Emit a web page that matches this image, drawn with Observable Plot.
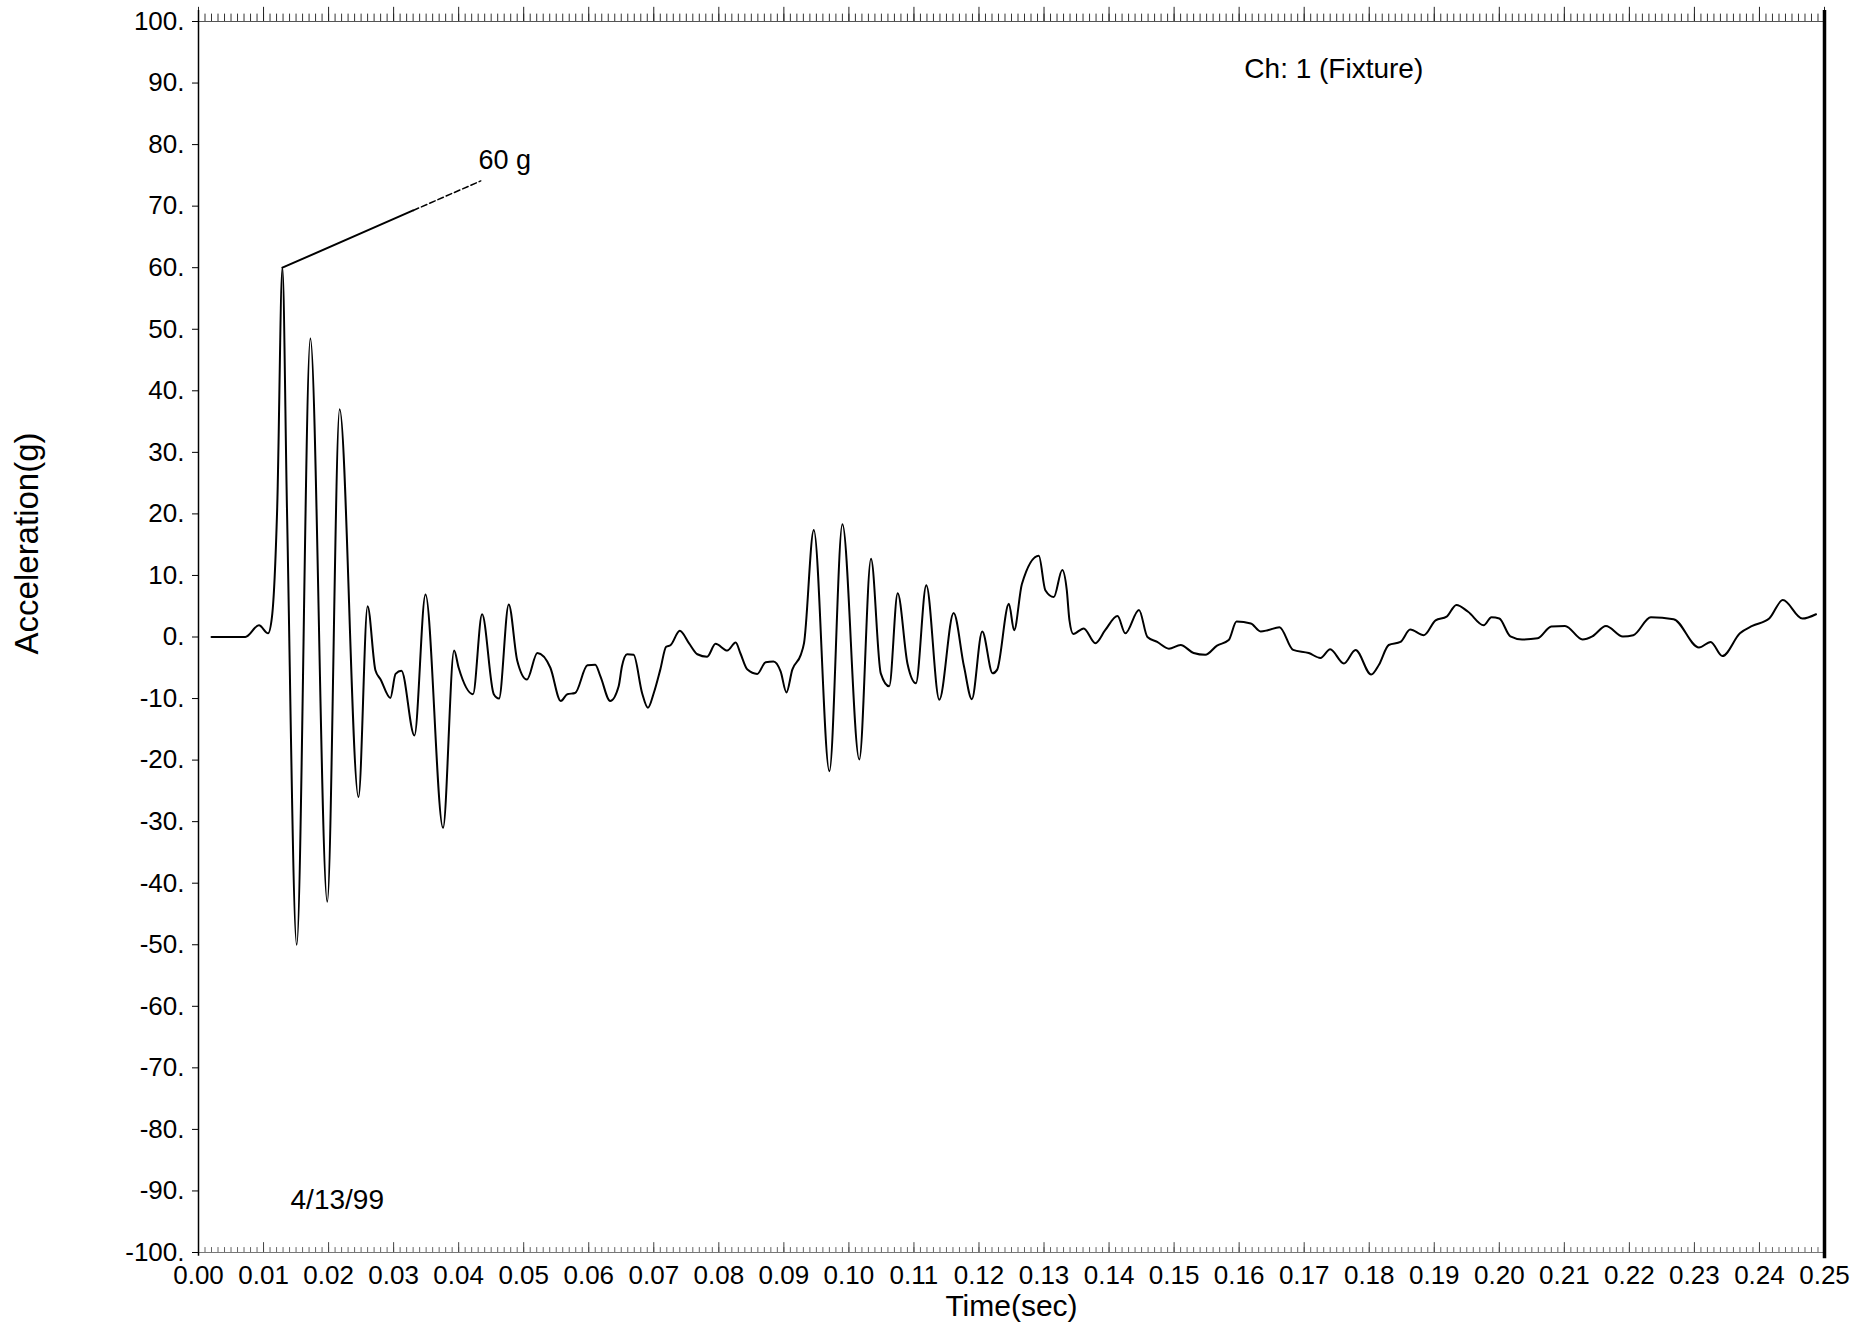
<!DOCTYPE html>
<html>
<head>
<meta charset="utf-8">
<script src="https://cdn.jsdelivr.net/npm/d3@7"></script>
<script src="https://cdn.jsdelivr.net/npm/@observablehq/plot@0.6"></script>
<style>
  html, body { margin: 0; padding: 0; background: #fff; }
  #chart svg { display: block; }
</style>
</head>
<body>
<div id="chart"></div>
<script>
// Time (sec) of digitized samples
const timeSec = [
  0.0020, 0.0072, 0.0093, 0.0107, 0.0113, 0.0121, 0.0129, 0.0136, 0.0151, 0.0172,
  0.0198, 0.0217, 0.0246, 0.0260, 0.0272, 0.0280, 0.0295, 0.0303, 0.0312, 0.0332,
  0.0349, 0.0376, 0.0393, 0.0400, 0.0422, 0.0436, 0.0454, 0.0462, 0.0477, 0.0490,
  0.0505, 0.0521, 0.0541, 0.0557, 0.0567, 0.0579, 0.0598, 0.0610, 0.0618, 0.0633,
  0.0646, 0.0651, 0.0659, 0.0669, 0.0682, 0.0691, 0.0700, 0.0710, 0.0719, 0.0726,
  0.0740, 0.0754, 0.0767, 0.0782, 0.0795, 0.0813, 0.0826, 0.0833, 0.0844, 0.0859,
  0.0872, 0.0884, 0.0895, 0.0904, 0.0913, 0.0926, 0.0931, 0.0946, 0.0970, 0.0990,
  0.1016, 0.1034, 0.1049, 0.1062, 0.1075, 0.1090, 0.1103, 0.1119, 0.1139, 0.1161,
  0.1177, 0.1189, 0.1205, 0.1221, 0.1228, 0.1246, 0.1254, 0.1266, 0.1292, 0.1302,
  0.1315, 0.1328, 0.1335, 0.1339, 0.1345, 0.1361, 0.1379, 0.1394, 0.1413, 0.1425,
  0.1446, 0.1459, 0.1474, 0.1492, 0.1510, 0.1530, 0.1548, 0.1566, 0.1584, 0.1596,
  0.1618, 0.1633, 0.1644, 0.1662, 0.1683, 0.1707, 0.1725, 0.1740, 0.1761, 0.1779,
  0.1803, 0.1815, 0.1830, 0.1848, 0.1863, 0.1884, 0.1902, 0.1919, 0.1934, 0.1952,
  0.1976, 0.1988, 0.2000, 0.2017, 0.2035, 0.2059, 0.2080, 0.2101, 0.2128, 0.2143,
  0.2164, 0.2190, 0.2206, 0.2233, 0.2268, 0.2307, 0.2325, 0.2343, 0.2370, 0.2389,
  0.2415, 0.2436, 0.2466, 0.2487
];
// Acceleration (g) at those times
const accelG = [
  0, 0, 1.9, 0.6, 3.3, 21, 60, 21, -50, 48.5,
  -43, 37, -26, 5, -5.4, -6.9, -9.9, -6.0, -5.5, -16,
  6.9, -31, -2.2, -5, -9.3, 3.7, -9.3, -10, 5.3, -3.8,
  -6.9, -2.6, -5, -10.4, -9.3, -9.1, -4.6, -4.5, -6.4, -10.4,
  -8, -4.8, -2.8, -2.9, -9.1, -11.5, -9.1, -5.3, -1.6, -1.3,
  1.0, -1.0, -2.8, -3.2, -1.1, -2.2, -0.9, -2.6, -5.3, -6.0,
  -4.1, -4.0, -5.6, -9.0, -5.3, -2.9, -1.0, 17.4, -21.8, 18.3,
  -19.9, 12.7, -5.9, -8.0, 7.1, -4.3, -7.5, 8.4, -10.2, 3.9,
  -4.8, -10.1, 0.9, -5.9, -5.3, 5.4, 1.1, 8.6, 13.2, 7.6,
  6.5, 10.9, 7.6, 2.8, 0.5, 1.4, -1.0, 1.1, 3.4, 0.6,
  4.4, 0.0, -0.8, -1.9, -1.3, -2.6, -2.9, -1.4, -0.5, 2.5,
  2.2, 0.9, 1.1, 1.6, -2.1, -2.6, -3.4, -2.0, -4.3, -2.1,
  -6.1, -4.5, -1.3, -0.8, 1.2, 0.3, 2.7, 3.3, 5.2, 4.1,
  1.9, 3.2, 3.0, 0.1, -0.4, -0.2, 1.7, 1.8, -0.4, 0.1,
  1.8, 0.1, 0.3, 3.2, 2.9, -1.7, -0.8, -3.1, 0.6, 1.8,
  3.0, 6.0, 3.0, 3.7
];
// Tick labels
const xTicks = [0, 0.01, 0.02, 0.03, 0.04, 0.05, 0.06, 0.07, 0.08, 0.09, 0.10, 0.11, 0.12,
  0.13, 0.14, 0.15, 0.16, 0.17, 0.18, 0.19, 0.20, 0.21, 0.22, 0.23, 0.24, 0.25];
const yTicks = [-100, -90, -80, -70, -60, -50, -40, -30, -20, -10, 0, 10, 20, 30, 40, 50, 60, 70, 80, 90, 100];
// Peak annotation
const peakLabel = "60 g";
const annoSolidX = [0.0129, 0.0330];
const annoSolidY = [60, 69.3];
const annoDashX = [0.0330, 0.0434];
const annoDashY = [69.3, 74.1];
const channelLabel = "Ch: 1 (Fixture)";
const dateLabel = "4/13/99";
const xTitle = "Time(sec)";
const yTitle = "Acceleration(g)";

const series = timeSec.map((t, i) => ({t, g: accelG[i]}));
const minorTicks = d3.range(0, 251).map(i => i / 1000);
const font = "'Liberation Sans', Arial, Helvetica, sans-serif";

const chart = Plot.plot({
  width: 1867,
  height: 1326,
  marginLeft: 198,
  marginRight: 43,
  marginTop: 21,
  marginBottom: 74,
  x: {domain: [0, 0.25]},
  y: {domain: [-100, 100]},
  style: {fontFamily: font, fontSize: "26px", color: "#000", background: "#fff"},
  marks: [
    // frame edges
    Plot.ruleY([100], {stroke: "#555", strokeWidth: 1}),
    Plot.ruleY([-100], {stroke: "#777", strokeWidth: 1}),
    Plot.ruleX(minorTicks, {y1: 100, y2: 101.2, stroke: "#333", strokeWidth: 1}),
    Plot.ruleX(xTicks, {y1: 100, y2: 102.3, stroke: "#222", strokeWidth: 1}),
    Plot.ruleX(minorTicks, {y1: -100, y2: -99.2, stroke: "#666", strokeWidth: 1}),
    Plot.ruleX(xTicks, {y1: -100, y2: -98.4, stroke: "#444", strokeWidth: 1}),
    Plot.ruleX([0], {y1: -100.6, y2: 101.8, stroke: "#000", strokeWidth: 1.5}),
    Plot.ruleX([0.25], {y1: -101, y2: 101.8, stroke: "#000", strokeWidth: 3.5}),
    // axes
    Plot.axisY({ticks: yTicks, tickFormat: d => d + ".", tickSize: 6, tickPadding: 8, label: null, fontSize: 26}),
    Plot.axisX({ticks: xTicks, tickFormat: d => d.toFixed(2), tickSize: 0, tickPadding: 13, label: null, fontSize: 26}),
    // waveform
    Plot.line(series, {x: "t", y: "g", curve: "monotone-x", stroke: "#000", strokeWidth: 2}),
    // annotation leader
    Plot.line(annoSolidX.map((x, i) => ({x, y: annoSolidY[i]})), {x: "x", y: "y", stroke: "#000", strokeWidth: 2}),
    Plot.line(annoDashX.map((x, i) => ({x, y: annoDashY[i]})), {x: "x", y: "y", stroke: "#000", strokeWidth: 1.5, strokeDasharray: "6,3"}),
    Plot.text([peakLabel], {x: 0.04305, y: 77.4, text: d => d, textAnchor: "start", lineAnchor: "middle", fontSize: 27}),
    Plot.text([channelLabel], {x: 0.1608, y: 92.2, text: d => d, textAnchor: "start", lineAnchor: "middle", fontSize: 28}),
    Plot.text([dateLabel], {x: 0.01415, y: -91.4, text: d => d, textAnchor: "start", lineAnchor: "middle", fontSize: 28}),
    // axis titles
    Plot.text([xTitle], {frameAnchor: "bottom", lineAnchor: "middle", dy: 54, text: d => d, fontSize: 30}),
    Plot.text([yTitle], {x: -0.02629, y: 15.2, text: d => d, rotate: -90, lineAnchor: "middle", fontSize: 33})
  ]
});
document.getElementById("chart").append(chart);
</script>
</body>
</html>
